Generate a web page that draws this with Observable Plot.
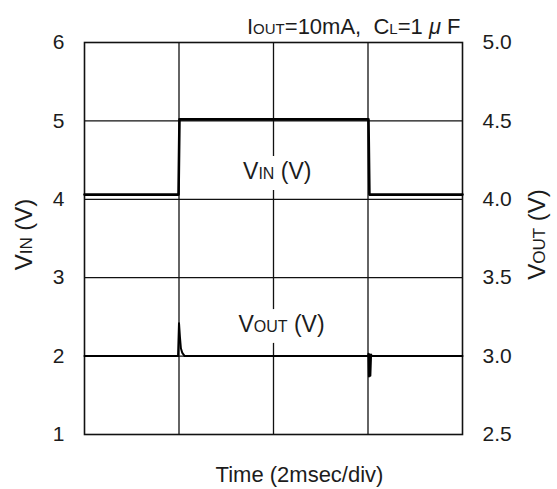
<!DOCTYPE html>
<html>
<head>
<meta charset="utf-8">
<script src="https://cdn.jsdelivr.net/npm/d3@7"></script>
<script src="https://cdn.jsdelivr.net/npm/@observablehq/plot@0.6"></script>
<style>
  html, body { margin: 0; padding: 0; background: #fff; }
  svg text { white-space: pre; }
</style>
</head>
<body>
<div id="chart"></div>
<script>
// ---- data ----
// time in ms (2 ms per division, 4 divisions)
const vinTime  = [0, 1.99, 2.01, 6.01, 6.03, 8];
const vinVolts = [4.06, 4.06, 5.02, 5.02, 4.06, 4.06];

const voutTime  = [0, 1.98, 2.0, 2.02, 2.04, 2.07, 2.12, 6.0, 6.01, 6.02, 6.035, 6.05, 6.065, 6.08, 8];
const voutVolts = [3.0, 3.0, 3.21, 3.12, 3.05, 3.02, 3.0, 3.0, 3.015, 2.87, 3.01, 2.875, 3.01, 3.0, 3.0];

const timeGrid   = [2, 4, 6];
const vinTicks   = [1, 2, 3, 4, 5, 6];
const voutTicks  = [2.5, 3.0, 3.5, 4.0, 4.5, 5.0];

const titleText  = "IOUT=10mA,  CL=1 μ F";
const xLabel     = "Time (2msec/div)";
const vinLabel   = "VIN (V)";
const voutLabel  = "VOUT (V)";

// secondary axis mapping: VOUT 2.5..5.0 <-> VIN 1..6
const vout2vin = v => (v - 2.5) * 2 + 1;
const vin2vout = v => (v - 1) / 2 + 2.5;

const vinData  = vinTime.map((t, i) => ({t, v: vinVolts[i]}));
const voutData = voutTime.map((t, i) => ({t, v: voutVolts[i]}));

const ink = "#111";
const textInk = "#1c1c1c";

const inLabels = [
  {text: vinLabel, x: 4.08, y: 4.35},
  {text: voutLabel, x: 4.17, y: vout2vin(3.2)}
];

const plot = Plot.plot({
  width: 557,
  height: 489,
  marginLeft: 84,
  marginRight: 95,
  marginTop: 42,
  marginBottom: 55,
  style: {fontFamily: "'Liberation Sans', Arial, sans-serif", fontSize: "21px", color: textInk, background: "#fff"},
  x: {domain: [0, 8], axis: null},
  y: {domain: [1, 6], axis: null},
  marks: [
    Plot.gridX(timeGrid, {stroke: ink, strokeOpacity: 1, strokeWidth: 1.3}),
    Plot.gridY(vinTicks.slice(1, -1), {stroke: ink, strokeOpacity: 1, strokeWidth: 1.3}),
    Plot.frame({stroke: ink, strokeWidth: 1.6}),
    Plot.axisY(vinTicks, {anchor: "left", tickSize: 0, tickPadding: 20, label: null, fontSize: 21, fill: textInk,
      tickFormat: d => d.toFixed(0)}),
    Plot.axisY(voutTicks.map(vout2vin), {anchor: "right", tickSize: 0, tickPadding: 20, label: null, fontSize: 21, fill: textInk,
      tickFormat: d => vin2vout(d).toFixed(1)}),
    // white halo behind in-plot labels (interrupts the grid like the original)
    Plot.text(inLabels, {x: "x", y: "y", text: "text", fontSize: 23, fill: "#fff", stroke: "#fff", strokeWidth: 22, textAnchor: "middle"}),
    Plot.text(inLabels, {x: "x", y: "y", text: "text", fontSize: 23, fill: textInk, textAnchor: "middle"}),
    // traces
    Plot.line(vinData, {x: "t", y: "v", stroke: "#000", strokeWidth: 2.6, curve: "linear"}),
    Plot.line(voutData, {x: "t", y: d => vout2vin(d.v), stroke: "#000", strokeWidth: 2, curve: "linear"}),
    // titles
    Plot.text([titleText], {frameAnchor: "top-right", textAnchor: "end", lineAnchor: "bottom", dx: -2, dy: -9, fontSize: 22, fill: textInk}),
    Plot.text([xLabel], {frameAnchor: "bottom", textAnchor: "middle", lineAnchor: "bottom", dx: 26, dy: 47, fontSize: 22, fill: textInk}),
    Plot.text([vinLabel], {frameAnchor: "left", textAnchor: "middle", rotate: -90, dx: -60, dy: -4, fontSize: 24, fill: textInk}),
    Plot.text([voutLabel], {frameAnchor: "right", textAnchor: "middle", rotate: -90, dx: 75, dy: -4, fontSize: 24, fill: textInk})
  ]
});

// small-caps style subscripts (as in the original figure)
const RICH = {
  "VIN (V)": [["V"], ["IN", "sub"], [" (V)"]],
  "VOUT (V)": [["V"], ["OUT", "sub"], [" (V)"]],
  "IOUT=10mA,  CL=1 μ F": [["I"], ["OUT", "sub"], ["=10mA,  C"], ["L", "sub"], ["=1 "], ["μ", "ital"], [" F"]]
};
d3.select(plot).selectAll("text").each(function () {
  const parts = RICH[this.textContent];
  if (!parts) return;
  let fs = parseFloat(this.getAttribute("font-size"));
  if (!fs) fs = parseFloat(this.parentNode.getAttribute("font-size")) || 22;
  this.textContent = "";
  for (const [s, kind] of parts) {
    const ts = d3.select(this).append("tspan").text(s);
    if (kind === "sub") ts.attr("font-size", Math.round(fs * 0.7));
    if (kind === "ital") ts.attr("font-style", "italic");
  }
});

document.getElementById("chart").appendChild(plot);
</script>
</body>
</html>
